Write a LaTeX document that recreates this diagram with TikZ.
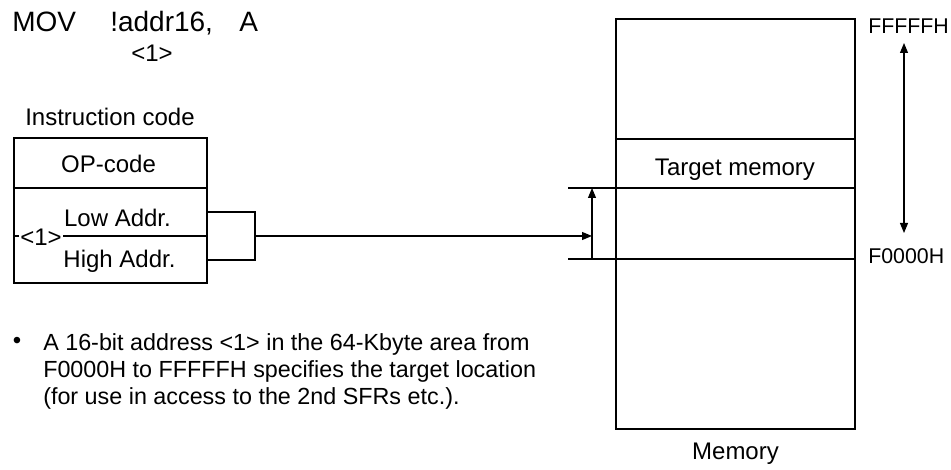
\documentclass[tikz,border=0pt]{standalone}
\usepackage{fontspec}
\setmainfont{Liberation Sans}
\usetikzlibrary{positioning, arrows.meta}

\begin{document}
\begin{tikzpicture}[x=0.75pt, y=-0.75pt, >={Triangle[length=7.5pt, width=6pt]},
    txt/.style={font=\fontsize{18}{21}\selectfont, inner sep=0pt, anchor=base},
    note/.style={font=\fontsize{17.5}{20}\selectfont, inner sep=0pt, anchor=base west},
    big/.style={font=\fontsize{21}{25}\selectfont, inner sep=0pt, anchor=base west},
    hex/.style={font=\fontsize{16}{19}\selectfont, inner sep=0pt, anchor=west},
    frame/.style={draw, line width=1.7pt, inner sep=0pt},
    heavy/.style={line width=1.5pt},
    fine/.style={line width=0.8pt}]
  \useasboundingbox (0,0) rectangle (951,470);
  % instruction
  \node[big] (mov) at (12,32) {MOV};
  \node[big] (addr) at (110,32) {!addr16,};
  \node[big] (acc) at (239,32) {A};
  \node[txt, anchor=center] (one) at (152,53) {<1>};
  % instruction code box
  \node[txt] (title) at (110,126) {Instruction code};
  \node[frame, minimum width=144.75pt, minimum height=108.75pt] (instr) at (110.5,210.5) {};
  \draw[heavy] (instr.west |- 0,188) -- (instr.east |- 0,188);
  \draw[heavy] (instr.west |- 0,236) -- (instr.east |- 0,236);
  \node[txt] (op) at (108.5,173) {OP-code};
  \node[txt] (low) at (117.5,227) {Low Addr.};
  \node[txt] (high) at (119.5,268) {High Addr.};
  \node[txt, anchor=center, fill=white, inner sep=1pt] (mark) at (41,237) {<1>};
  % memory
  \node[frame, minimum width=179.25pt, minimum height=307.5pt] (mem) at (735.5,224) {};
  \draw[fine] (mem.west |- 0,139) -- (mem.east |- 0,139);
  \coordinate (topL) at (568,188);
  \coordinate (botL) at (568,259);
  \draw[heavy] (topL) -- (mem.east |- topL);
  \draw[heavy] (botL) -- (mem.east |- botL);
  \node[txt] (target) at (735,176) {Target memory};
  \node[txt] (memlbl) at (735.5,460) {Memory};
  \node[hex] (fff) at (868,26) {FFFFFH};
  \node[hex] (f00) at (868,256) {F0000H};
  \draw[fine, <->] (904,43) -- (904,233);
  % connection
  \coordinate (join) at (255,236);
  \coordinate (hit) at (592,236);
  \draw[heavy] (instr.east |- 0,212) -| (255,260) -- (instr.east |- 0,260);
  \draw[fine, ->] (join) -- (hit);
  \draw[fine, ->] (botL -| hit) -- (topL -| hit);
  % note
  \node[txt, anchor=center] (dot) at (17,343) {•};
  \node[note] (note1) at (43,351) {A 16-bit address <1> in the 64-Kbyte area from};
  \node[note] (note2) at (43,378) {F0000H to FFFFFH specifies the target location};
  \node[note] (note3) at (43,405) {(for use in access to the 2nd SFRs etc.).};
\end{tikzpicture}
\end{document}
